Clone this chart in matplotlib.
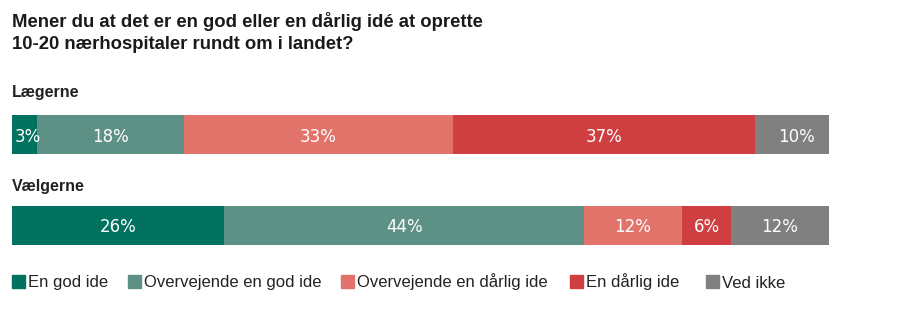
import matplotlib.pyplot as plt
from matplotlib.patches import Rectangle
import numpy as np

# Survey answers, share in percent
groups = ["Lægerne", "Vælgerne"]
answers = ["En god ide", "Overvejende en god ide", "Overvejende en dårlig ide",
           "En dårlig ide", "Ved ikke"]
laegerne = [3, 18, 33, 37, 10]
vaelgerne = [26, 44, 12, 6, 12]
colors = ["#00725F", "#5E9185", "#E1736B", "#CF3E40", "#808080"]

title_lines = ["Mener du at det er en god eller en dårlig idé at oprette",
               "10-20 nærhospitaler rundt om i landet?"]

W, H = 900, 324
fig = plt.figure(figsize=(W / 100, H / 100), dpi=100)
fig.patch.set_facecolor("white")


def px(x, y):
    # pixel position (from top-left) -> figure fraction
    return x / W, 1 - y / H


# bars area: 12..829 px wide, 115..245 px tall
ax = fig.add_axes([12 / W, (H - 245) / H, 817 / W, 130 / H])
ax.set_xlim(0, 100)
ax.set_ylim(1.2143, -0.2143)
ax.axis("off")

bar_h = 39 / 91
for row, vals in enumerate([laegerne, vaelgerne]):
    left = 0
    for v, c in zip(vals, colors):
        ax.barh(row, v, left=left, height=bar_h, color=c, edgecolor="none")
        if v < 5:
            x, ha = left + 0.35, "left"
        else:
            x, ha = left + v / 2, "center"
        ax.text(x, row, f"{v}%", ha=ha, va="center_baseline", color="white",
                fontsize=12, family="DejaVu Sans")
        left += v

# title and group labels
for line, yb in zip(title_lines, [27, 49]):
    fig.text(*px(12, yb), line, ha="left", va="baseline", fontsize=13.3,
             fontweight="bold", family="Liberation Sans", color="#1a1a1a")
for g, yb in zip(groups, [97, 191]):
    fig.text(*px(12, yb), g, ha="left", va="baseline", fontsize=11.5,
             fontweight="bold", family="Liberation Sans", color="#222222")

# legend row
sq_x = [12, 128, 341, 570, 706]
for x, lab, c in zip(sq_x, answers, colors):
    fig.patches.append(Rectangle(px(x, 288), 13 / W, 13 / H, color=c,
                                 transform=fig.transFigure, figure=fig))
    fig.text(*px(x + 16, 287.5), lab, ha="left", va="baseline", fontsize=12,
             family="Liberation Sans", color="#222222")

fig.savefig("out.png", dpi=100, facecolor="white")
